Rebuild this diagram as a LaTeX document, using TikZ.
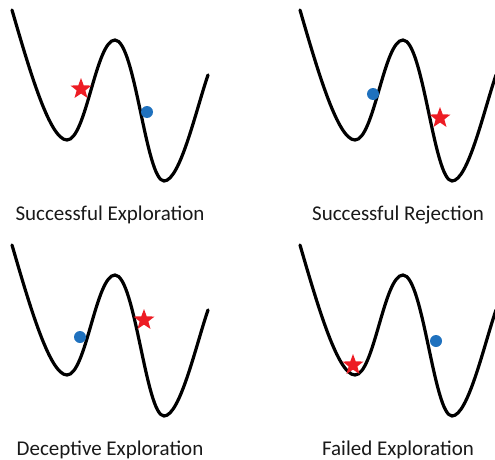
\documentclass[tikz,border=0pt]{standalone}
\usepackage{fontspec}
\setmainfont{Carlito}
\usetikzlibrary{shapes.geometric}
\definecolor{dotblue}{RGB}{31,113,190}
\definecolor{starred}{RGB}{237,28,36}
\tikzset{
  curve/.style={line width=3.2pt, black, line cap=round},
  redstar/.style={star, star points=5, star point ratio=2.4, fill=starred, draw=none, minimum size=22pt, inner sep=0pt},
  bluedot/.style={circle, fill=dotblue, draw=none, minimum size=12pt, inner sep=0pt},
  caption/.style={font=\fontsize{21pt}{24pt}\selectfont, text=black!90, inner sep=0pt}
}
\newcommand{\wellcurve}{%
  \draw[curve] (12,10) .. controls (30,72) and (50,140) .. (67,140)
    .. controls (86,140) and (96,40) .. (115,40)
    .. controls (135,40) and (146,181) .. (164,181)
    .. controls (180,181) and (196,110) .. (208,75);}
\begin{document}
\begin{tikzpicture}[x=1pt,y=-1pt]
\useasboundingbox (0,0) rectangle (495,460);
% panel 1
\begin{scope}
\wellcurve
\end{scope}
\node[redstar] (s1) at (81,89) {};
\node[bluedot] (d1) at (147,112) {};
\node[caption] (c1) at (110,215) {Successful Exploration};
% panel 2
\begin{scope}[shift={(288,0)}]
\clip (-288,0) rectangle (207,460);
\wellcurve
\end{scope}
\node[bluedot] (d2) at (373,94) {};
\node[redstar] (s2) at (440,118) {};
\node[caption] (c2) at (398,215) {Successful Rejection};
% panel 3
\begin{scope}[shift={(0,235)}]
\wellcurve
\end{scope}
\node[bluedot] (d3) at (80,337) {};
\node[redstar] (s3) at (144,320) {};
\node[caption] (c3) at (110,450) {Deceptive Exploration};
% panel 4
\begin{scope}[shift={(288,235)}]
\clip (-288,-235) rectangle (207,225);
\wellcurve
\end{scope}
\node[redstar] (s4) at (353,365) {};
\node[bluedot] (d4) at (436,341) {};
\node[caption] (c4) at (398,450) {Failed Exploration};
\end{tikzpicture}
\end{document}
